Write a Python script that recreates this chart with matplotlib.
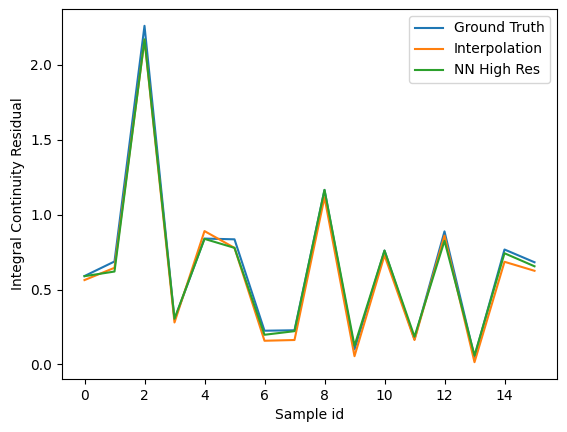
import matplotlib
matplotlib.use("Agg")
import matplotlib.pyplot as plt
import numpy as np

sample_ids = list(range(16))
ground_truth = [0.59, 0.687, 2.26, 0.3, 0.84, 0.835, 0.225, 0.228, 1.165, 0.1, 0.76, 0.168, 0.888, 0.05, 0.767, 0.682]
interpolation = [0.563, 0.645, 2.165, 0.28, 0.89, 0.778, 0.158, 0.163, 1.115, 0.055, 0.728, 0.163, 0.86, 0.015, 0.685, 0.625]
nn_high_res = [0.589, 0.62, 2.17, 0.305, 0.838, 0.778, 0.198, 0.222, 1.165, 0.125, 0.76, 0.185, 0.825, 0.06, 0.742, 0.655]

fig = plt.figure(figsize=(5.67, 4.32), dpi=100)
ax = fig.add_axes([62/567, 1-379/432, (557-62)/567, (379-9)/432])
ax.plot(sample_ids, ground_truth, label="Ground Truth")
ax.plot(sample_ids, interpolation, label="Interpolation")
ax.plot(sample_ids, nn_high_res, label="NN High Res")
ax.set_xlabel("Sample id")
ax.set_ylabel("Integral Continuity Residual")
ax.legend()
fig.savefig("out.png", dpi=100)
